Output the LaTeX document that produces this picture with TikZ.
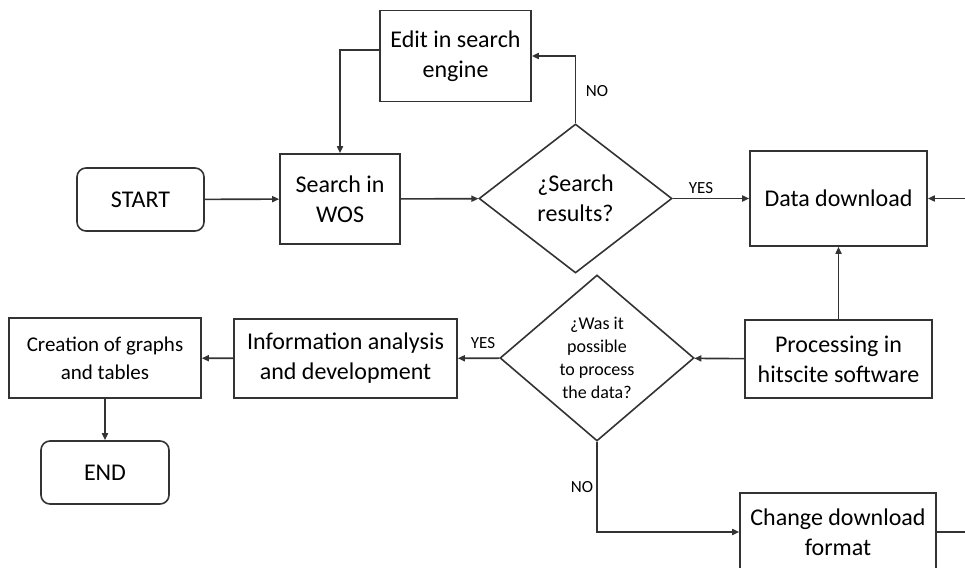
\documentclass[tikz,border=0pt]{standalone}
\usepackage{fontspec}
\setmainfont{Carlito}
\usetikzlibrary{shapes.geometric,arrows.meta}
\definecolor{ln}{gray}{0.2}
\tikzset{
  box/.style={draw=ln, line width=1.6pt, align=center, inner sep=0pt,
    font=\fontsize{24}{30}\selectfont},
  term/.style={box, rounded corners=9pt},
  dec/.style={draw=ln, line width=1.6pt, shape=diamond, inner sep=0pt, align=center},
  arr/.style={draw=ln, line width=1.6pt, -{Triangle[length=7pt,width=6pt]}},
  lab/.style={font=\fontsize{17}{19}\selectfont, inner sep=0pt}
}
\begin{document}
\begin{tikzpicture}[x=1pt,y=-1pt]
\useasboundingbox (0,0) rectangle (965,567);
\node[term, minimum width=127pt, minimum height=63pt] (start) at (140.5,199.5) {START};
\node[box, minimum width=120pt, minimum height=90pt] (search) at (340,199) {Search in\\WOS};
\node[box, minimum width=151pt, minimum height=91pt] (edit) at (455.5,56) {Edit in search\\engine};
\node[dec, minimum width=193pt, minimum height=149pt, font=\fontsize{24}{30}\selectfont] (d1) at (575.5,198.5) {¿Search\\results?};
\node[box, minimum width=177pt, minimum height=95pt] (dl) at (838.5,198.5) {Data download};
\node[box, minimum width=187pt, minimum height=78pt] (proc) at (838.5,359) {Processing in\\hitscite software};
\node[dec, minimum width=194pt, minimum height=166pt, font=\fontsize{18}{23}\selectfont] (d2) at (597,358) {¿Was it\\possible\\to process\\the data?};
\node[box, minimum width=223pt, minimum height=79pt] (info) at (345.5,358.5) {Information analysis\\and development};
\node[box, minimum width=192pt, minimum height=80pt, font=\fontsize{21}{28}\selectfont] (creat) at (105,358) {Creation of graphs\\and tables};
\node[term, minimum width=128pt, minimum height=63pt] (endn) at (105,472.5) {END};
\node[box, minimum width=196pt, minimum height=78pt] (change) at (838,532) {Change download\\format};

\draw[arr] (start) -- (search);
\draw[arr] (search) -- (d1);
\draw[arr] (d1) -- (dl);
\draw[arr] (d1.north) |- (edit.east);
\draw[arr] ([yshift=6pt]edit.west) -| (search.north);
\draw[arr] (proc) -- (dl);
\draw[arr] (proc) -- (d2);
\draw[arr] (d2) -- (info);
\draw[arr] (info) -- (creat);
\draw[arr] (creat) -- (endn);
\draw[arr] (d2.south) |- (change.west);
\draw[arr] (change.east) -- ++(40,0) |- (dl.east);

\node[lab] (yes1) at (701,188) {YES};
\node[lab] (no1) at (597,91) {NO};
\node[lab] (yes2) at (483,343) {YES};
\node[lab] (no2) at (582,487) {NO};
\end{tikzpicture}
\end{document}
